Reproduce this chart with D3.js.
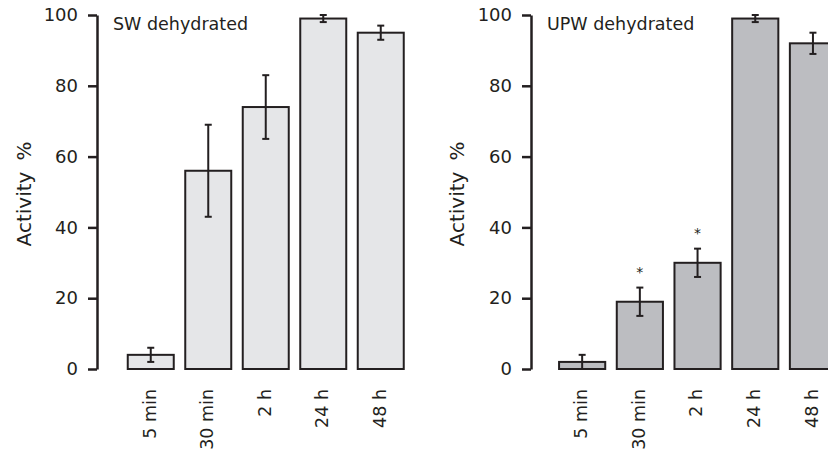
<!DOCTYPE html>
<html>
<head>
<meta charset="utf-8">
<script src="https://cdn.jsdelivr.net/npm/d3@7"></script>
<style>
  body { margin: 0; background: #fff; }
  text { font-family: "DejaVu Sans", Verdana, sans-serif; fill: #231f20; }
</style>
</head>
<body>
<svg width="828" height="452"></svg>
<script>
var categories = ["5 min", "30 min", "2 h", "24 h", "48 h"];
var yTicks = [0, 20, 40, 60, 80, 100];

var swMean = [4, 56, 74, 99, 95];
var swErr = [2, 13, 9, 1, 2];
var swStar = [false, false, false, false, false];

var upwMean = [2, 19, 30, 99, 92];
var upwErr = [2, 4, 4, 1, 3];
var upwStar = [false, true, true, false, false];

var panels = [
  { title: "SW dehydrated", mean: swMean, err: swErr, star: swStar, fill: "#e5e6e8",
    axisX: 97, band: [122, 409.5], labelX: 24 },
  { title: "UPW dehydrated", mean: upwMean, err: upwErr, star: upwStar, fill: "#bcbdc1",
    axisX: 531, band: [553.3, 841.8], labelX: 457 }
];

var svg = d3.select("svg");
var dark = "#231f20";

var y = d3.scaleLinear().domain([0, 100]).range([369, 15]);

panels.forEach(function (p) {
  var g = svg.append("g");

  var x = d3.scaleBand()
      .domain(categories)
      .range(p.band)
      .paddingInner(0.2)
      .paddingOuter(0.1);

  var rows = categories.map(function (c, i) {
    return { cat: c, mean: p.mean[i], err: p.err[i], star: p.star[i] };
  });

  // bars
  g.selectAll("rect.bar")
    .data(rows)
    .enter().append("rect")
      .attr("class", "bar")
      .attr("x", function (d) { return x(d.cat); })
      .attr("y", function (d) { return y(d.mean); })
      .attr("width", x.bandwidth())
      .attr("height", function (d) { return y(0) - y(d.mean); })
      .style("fill", p.fill)
      .style("stroke", dark)
      .style("stroke-width", 2);

  // error bars
  var eb = g.selectAll("g.err")
    .data(rows)
    .enter().append("g")
      .attr("class", "err")
      .attr("transform", function (d) { return "translate(" + (x(d.cat) + x.bandwidth() / 2) + ",0)"; });

  eb.append("line")
      .attr("y1", function (d) { return y(d.mean + d.err); })
      .attr("y2", function (d) { return y(Math.max(0, d.mean - d.err)); });
  eb.append("line")
      .attr("x1", -3.5).attr("x2", 3.5)
      .attr("y1", function (d) { return y(d.mean + d.err); })
      .attr("y2", function (d) { return y(d.mean + d.err); });
  eb.append("line")
      .attr("x1", -3.5).attr("x2", 3.5)
      .attr("y1", function (d) { return y(Math.max(0, d.mean - d.err)); })
      .attr("y2", function (d) { return y(Math.max(0, d.mean - d.err)); });
  eb.selectAll("line").style("stroke", dark).style("stroke-width", 2);

  eb.filter(function (d) { return d.star; })
    .append("text")
      .attr("y", function (d) { return y(d.mean + d.err) - 11; })
      .attr("text-anchor", "middle")
      .style("font-size", "14px")
      .text("*");

  // y axis
  var yAxis = g.append("g")
      .attr("transform", "translate(" + p.axisX + ",0)")
      .call(d3.axisLeft(y).tickValues(yTicks).tickSize(9).tickPadding(10).tickSizeOuter(0));
  yAxis.select(".domain").style("stroke", dark).style("stroke-width", 2.5);
  yAxis.selectAll(".tick line").style("stroke", dark).style("stroke-width", 2.5);
  yAxis.selectAll(".tick text")
      .style("font-size", "18px")
      .style("font-family", "'DejaVu Sans', Verdana, sans-serif")
      .style("fill", dark);

  // category labels
  g.selectAll("text.cat")
    .data(categories)
    .enter().append("text")
      .attr("class", "cat")
      .attr("transform", function (d) { return "translate(" + (x(d) + x.bandwidth() / 2) + ",389) rotate(-90)"; })
      .attr("text-anchor", "end")
      .attr("dy", "0.28em")
      .style("font-size", "17.5px")
      .text(function (d) { return d; });

  // y label
  var yl = g.append("text")
      .attr("transform", "translate(" + p.labelX + ",194) rotate(-90)")
      .attr("text-anchor", "middle")
      .attr("dy", "0.35em")
      .style("font-size", "20px");
  yl.append("tspan").text("Activity");
  yl.append("tspan").attr("dx", "0.55em").text("%");

  // panel title
  g.append("text")
      .attr("x", p.axisX + 16)
      .attr("y", 30)
      .style("font-size", "17.5px")
      .text(p.title);
});
</script>
</body>
</html>
